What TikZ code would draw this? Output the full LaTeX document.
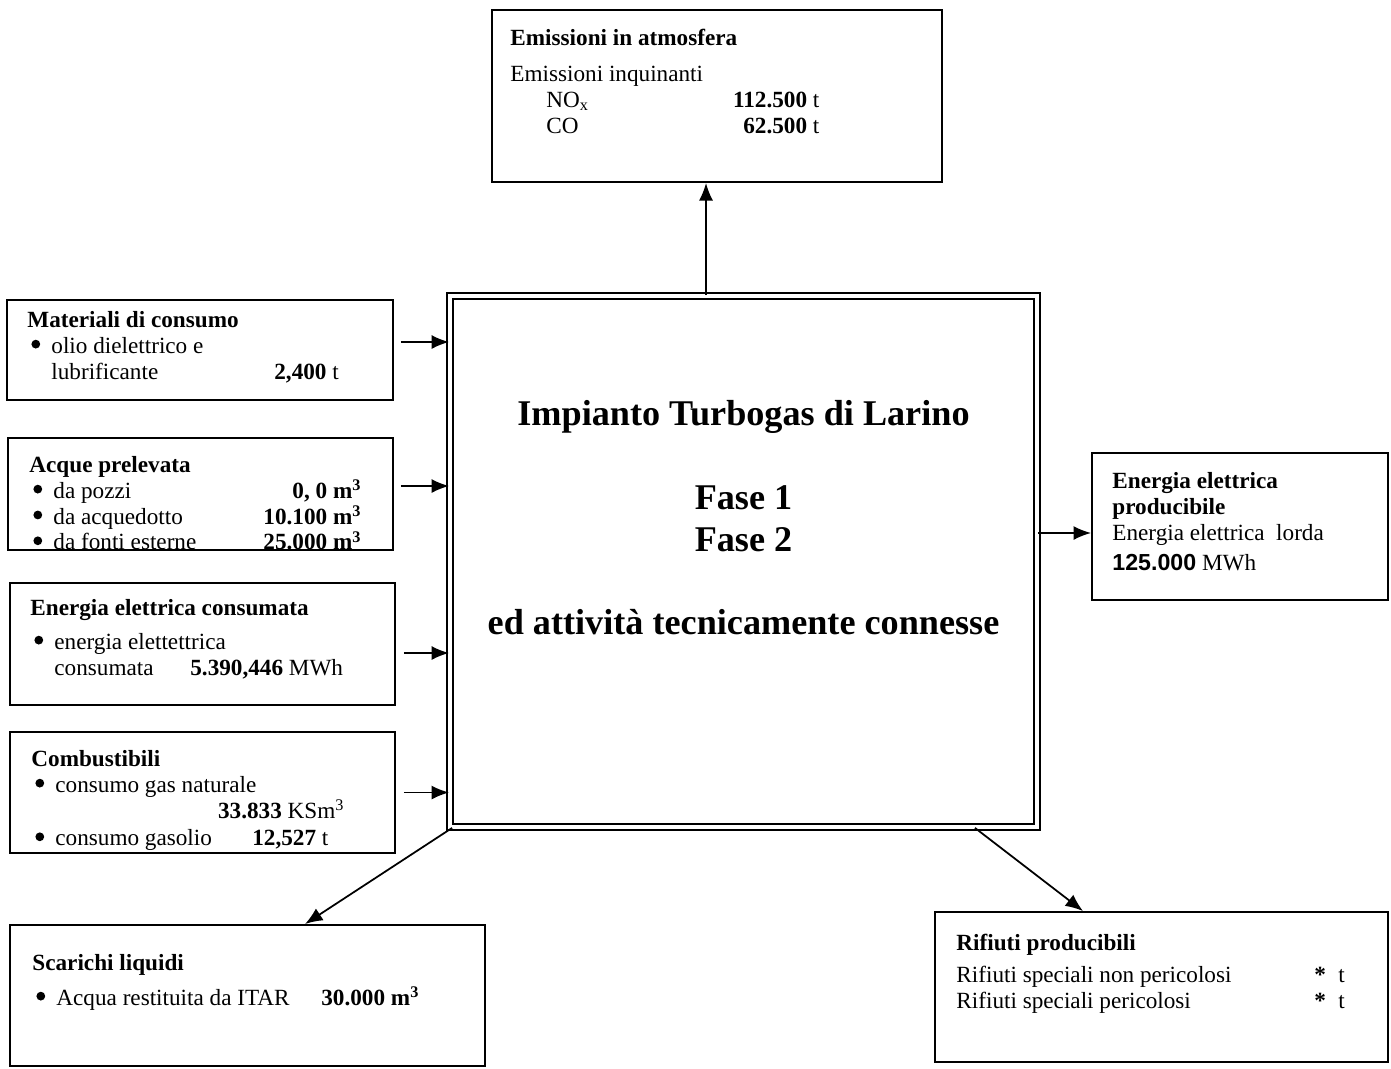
\documentclass[tikz,border=0pt]{standalone}
\usepackage{fontspec}
\setmainfont{Liberation Serif}
\newfontfamily\arialfont{Liberation Sans}
\usetikzlibrary{positioning,arrows.meta}
\newcommand{\itm}{\makebox[0.48cm][l]{\hspace{0.08cm}\raisebox{0.45ex}{\tikz\fill (0,0) circle (2.5pt);}}}

\begin{document}
\begin{tikzpicture}[x=0.02cm, y=-0.02cm]
    \tikzset{
        box/.style = {rectangle, draw=black, line width=1.1pt, inner sep=0pt},
        mainbox/.style = {rectangle, draw=black, double, double distance=2.3pt, line width=1.1pt, inner sep=0pt},
        txt/.style = {inner sep=0pt, align=left, font=\fontsize{13.2}{14.7}\selectfont},
        title/.style = {inner sep=0pt, align=center, font=\fontsize{20.6}{23.8}\selectfont\bfseries},
        arrow/.style = {line width=1pt, -{Latex[length=10pt, width=8pt]}}
    }
    \useasboundingbox (0,0) rectangle (1391,1068);

    \node (main) [mainbox, minimum width=11.74cm, minimum height=10.62cm] at (743.5,561.5) {};
    \node (mainText) [title] at ([yshift=0.87cm]main.center) {Impianto Turbogas di Larino\\[23.8pt]
        Fase 1\\ Fase 2\\[23.8pt] ed attività tecnicamente connesse};

    \node (emis) [box, minimum width=9cm, minimum height=3.44cm] at (717,96) {};
    \node (emisText) [txt, below right=0.4cm and 0.38cm of emis.north west] {\textbf{Emissioni in atmosfera}\\[0.2cm]
        Emissioni inquinanti\\
        \hspace{0.72cm}\makebox[5.46cm]{NO\textsubscript{x}\hfill\textbf{112.500}~t}\\
        \hspace{0.72cm}\makebox[5.46cm]{CO\hfill\textbf{62.500}~t}};

    \node (mat) [box, minimum width=7.72cm, minimum height=2cm] at (200,350) {};
    \node (matText) [txt, below right=0.24cm and 0.42cm of mat.north west] {\textbf{Materiali di consumo}\\
        \itm olio dielettrico e\\
        \hspace{0.48cm}\makebox[4.46cm][l]{lubrificante}\textbf{2,400} t};

    \node (acq) [box, minimum width=7.7cm, minimum height=2.24cm] at (200.5,494) {};
    \node (acqText) [txt, below right=0.38cm and 0.44cm of acq.north west] {\textbf{Acque prelevata}\\
        \itm\makebox[6.16cm]{da pozzi\hfill\textbf{0, 0 m\textsuperscript{3}}}\\
        \itm\makebox[6.16cm]{da acquedotto\hfill\textbf{10.100 m\textsuperscript{3}}}\\
        \itm\makebox[6.16cm]{da fonti esterne\hfill\textbf{25.000 m\textsuperscript{3}}}};

    \node (encons) [box, minimum width=7.7cm, minimum height=2.44cm] at (202.5,644) {};
    \node (enconsText) [txt, below right=0.34cm and 0.42cm of encons.north west] {\textbf{Energia elettrica consumata}\\[0.16cm]
        \itm energia elettettrica\\
        \hspace{0.48cm}\makebox[2.72cm][l]{consumata}\textbf{5.390,446} MWh};

    \node (comb) [box, minimum width=7.7cm, minimum height=2.42cm] at (202.5,792.5) {};
    \node (combText) [txt, below right=0.38cm and 0.44cm of comb.north west] {\textbf{Combustibili}\\
        \itm consumo gas naturale\\
        \makebox[6.26cm][r]{\textbf{33.833} KSm\textsuperscript{3}}\\[0.04cm]
        \itm\makebox[3.94cm][l]{consumo gasolio}\textbf{12,527} t};

    \node (prod) [box, minimum width=5.92cm, minimum height=2.94cm] at (1240,526.5) {};
    \node (prodText) [txt, below right=0.4cm and 0.42cm of prod.north west] {\textbf{Energia elettrica}\\
        \textbf{producibile}\\
        Energia elettrica\ \ lorda\\[0.1cm]
        {\arialfont\bfseries 125.000} MWh};

    \node (scar) [box, minimum width=9.5cm, minimum height=2.82cm] at (247.5,995.5) {};
    \node (scarText) [txt, below right=0.6cm and 0.46cm of scar.north west] {\textbf{Scarichi liquidi}\\[0.18cm]
        \itm\makebox[5.3cm][l]{Acqua restituita da ITAR}\textbf{30.000 m\textsuperscript{3}}};

    \node (rif) [box, minimum width=9.06cm, minimum height=3cm] at (1161.5,987) {};
    \node (rifText) [txt, below right=0.46cm and 0.44cm of rif.north west] {\textbf{Rifiuti producibili}\\[0.12cm]
        \makebox[7.16cm][l]{Rifiuti speciali non pericolosi}\textbf{*}\hspace{0.25cm}t\\
        \makebox[7.16cm][l]{Rifiuti speciali pericolosi}\textbf{*}\hspace{0.25cm}t};

    \draw [arrow] ([xshift=-0.22cm]emis.south |- main.north) -- ([xshift=-0.22cm]emis.south);
    \draw [arrow] ([xshift=0.14cm, yshift=0.16cm]mat.east) -- ([yshift=0.16cm]mat.east -| main.west);
    \draw [arrow] ([xshift=0.14cm, yshift=0.16cm]acq.east) -- ([yshift=0.16cm]acq.east -| main.west);
    \draw [arrow] ([xshift=0.16cm, yshift=-0.18cm]encons.east) -- ([yshift=-0.18cm]encons.east -| main.west);
    \draw [arrow] ([xshift=0.16cm]comb.east) -- (comb.east -| main.west);
    \draw [arrow] ([yshift=-0.13cm]prod.west -| main.east) -- ([yshift=-0.13cm]prod.west);
    \draw [arrow] ([xshift=0.06cm]main.south west) -- ([xshift=1.15cm]scar.north);
    \draw [arrow] ([xshift=4.63cm]main.south) -- ([xshift=-1.57cm]rif.north);
\end{tikzpicture}
\end{document}
